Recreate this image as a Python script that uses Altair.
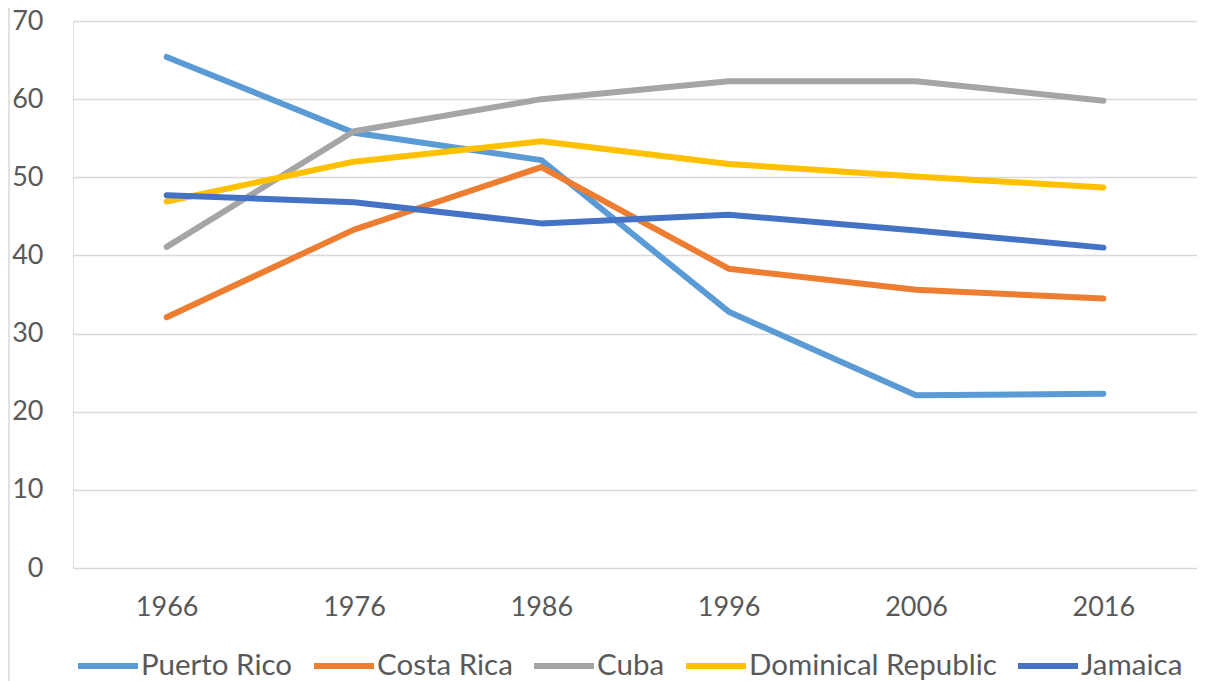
import altair as alt
import pandas as pd

years = ["1966", "1976", "1986", "1996", "2006", "2016"]
series_names = ["Puerto Rico", "Costa Rica", "Cuba", "Dominical Republic", "Jamaica"]
puerto_rico = [65.4, 55.7, 52.2, 32.8, 22.1, 22.3]
costa_rica = [32.1, 43.3, 51.3, 38.3, 35.6, 34.5]
cuba = [41.1, 55.9, 60.0, 62.3, 62.3, 59.8]
dominican = [46.9, 52.0, 54.6, 51.7, 50.1, 48.7]
jamaica = [47.7, 46.8, 44.1, 45.2, 43.2, 41.0]
colors = ["#5B9BD5", "#ED7D31", "#A5A5A5", "#FFC000", "#4472C4"]
y_ticks = [0, 10, 20, 30, 40, 50, 60, 70]

rows = []
for name, vals in zip(series_names, [puerto_rico, costa_rica, cuba, dominican, jamaica]):
    for i, (yr, v) in enumerate(zip(years, vals)):
        rows.append({"year": yr, "value": v, "series": name, "idx": i})
df = pd.DataFrame(rows)

FONT = "Lato"
TEXT = "#595959"

lines = alt.Chart(df).mark_line(
    strokeWidth=6, strokeCap="round", strokeJoin="round"
).encode(
    x=alt.X("year:N", sort=years,
            scale=alt.Scale(paddingInner=0, paddingOuter=0.5),
            axis=alt.Axis(title=None, labelAngle=0, ticks=False, domain=False,
                          grid=False, labelFont=FONT, labelFontSize=27,
                          labelColor=TEXT, labelPadding=26)),
    y=alt.Y("value:Q", scale=alt.Scale(domain=[0, 70], nice=False),
            axis=alt.Axis(title=None, values=y_ticks, ticks=False, domain=False,
                          gridColor="#D9D9D9", gridWidth=1.5,
                          labelFont=FONT, labelFontSize=27, labelColor=TEXT,
                          labelPadding=30)),
    color=alt.Color("series:N", sort=series_names,
                    scale=alt.Scale(domain=series_names, range=colors),
                    legend=alt.Legend(title=None, orient="none", direction="horizontal",
                                      legendX=2, legendY=612,
                                      symbolType="stroke", symbolSize=3600,
                                      symbolStrokeWidth=6, labelOffset=0,
                                      columnPadding=9, gridAlign="none",
                                      labelFont=FONT, labelFontSize=29.5,
                                      labelColor=TEXT, labelLimit=400)),
    order="idx:Q",
)

border = alt.Chart(pd.DataFrame({"a": [0]})).mark_rule(
    color="#D9D9D9", strokeWidth=1.5
).encode(x=alt.value(-64), y=alt.value(-13), y2=alt.value(660))

chart = alt.layer(border, lines).properties(
    width=1124, height=547,
    autosize=alt.AutoSizeParams(type="none"),
    padding={"left": 65, "top": 13, "right": 0, "bottom": 113},
).configure_view(stroke=None).configure(background="white")

chart.save("out.html", embed_options={"renderer": "svg", "actions": False})
